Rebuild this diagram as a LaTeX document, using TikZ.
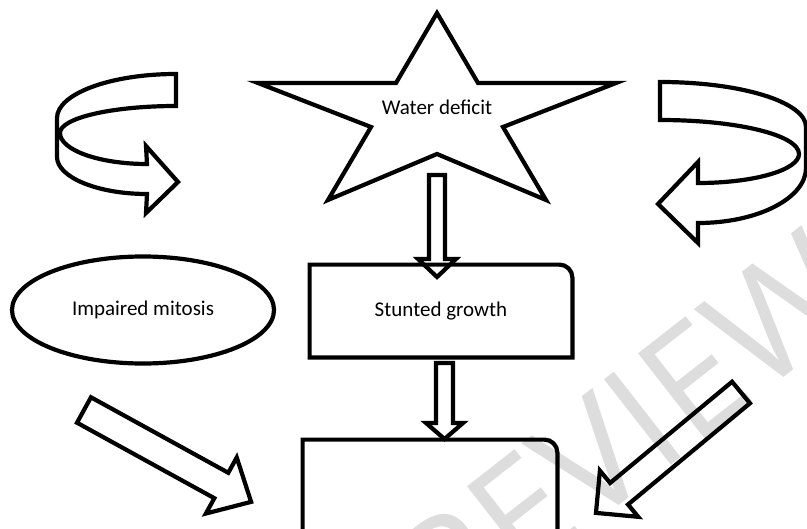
\documentclass[tikz,border=0pt]{standalone}
\usepackage{fontspec}
\setmainfont{Carlito}
\newfontfamily\wmfont{Open Sans}
\usetikzlibrary{shapes.geometric}
\definecolor{wmgray}{RGB}{221,221,221}
\tikzstyle{shapeline} = [line width=2.1pt, draw=black, line join=miter]
\tikzstyle{labelbox} = [rectangle, text centered, inner sep=0pt, font=\fontsize{10.5}{12.6}\selectfont]
\tikzstyle{watermark} = [text=wmgray, inner sep=0pt, font=\wmfont\fontsize{76}{76}\selectfont, rotate=38]
% block arrow: start, angle, length, shaft half width, head half width, head length
\newcommand{\blockarrow}[6]{%
  \draw[shapeline, shift={#1}, rotate=#2] (0,-#4) -- ({#3-#6},-#4) -- ({#3-#6},-#5) -- (#3,0)
    -- ({#3-#6},#5) -- ({#3-#6},#4) -- (0,#4) -- cycle;}

\begin{document}
\begin{tikzpicture}[x=0.5pt, y=-0.5pt]
\useasboundingbox (0,0) rectangle (807,529);
\node[watermark] (pv) at (590,460) {PREVIEW};

% star
\draw[shapeline] (437,13) -- (478,83) -- (616,83) -- (503,127) -- (546,200) -- (437,154)
  -- (328,200) -- (371,127) -- (258,83) -- (396,83) -- cycle;
\node[labelbox] (wd) at (437,107) {Water deficit};

% curved arrows
\draw[shapeline] (176,74) .. controls (110,74) and (57,94) .. (57,118) -- (57,157)
  .. controls (57,177) and (97,194) .. (147,194) -- (146,213) -- (178,182) -- (146,146) -- (147,164)
  .. controls (99,164) and (60,150) .. (60,133) .. controls (60,118) and (112,106) .. (176,106) -- cycle;
\draw[shapeline] (660,82) .. controls (741,82) and (806,102) .. (806,127) -- (806,168)
  .. controls (806,198) and (758,223) .. (698,223) -- (698,243) -- (658,204) -- (698,162) -- (698,183)
  .. controls (754,183) and (799,170) .. (799,154) .. controls (799,135) and (737,120) .. (660,120) -- cycle;

% nodes
\node[labelbox, ellipse, shapeline, minimum width=131pt, minimum height=53.5pt] (im) at (143,310) {Impaired mitosis};
\node[labelbox, minimum width=131pt, minimum height=46pt] (sg) at (441,311) {Stunted growth};
\draw[shapeline] (sg.south west) -- (sg.north west) -- ([xshift=-6.5pt]sg.north east)
  arc[start angle=90, end angle=0, radius=6.5pt] -- (sg.south east) -- cycle;
\node[labelbox, minimum width=127pt, minimum height=80pt] (res) at (430,520) {};
\draw[shapeline] (res.south west) -- (res.north west) -- ([xshift=-6.5pt]res.north east)
  arc[start angle=90, end angle=0, radius=6.5pt] -- (res.south east) -- cycle;

% block arrows
\blockarrow{(437,175)}{-90}{102}{8}{19}{18}
\blockarrow{(444.5,363)}{-90}{76}{8.5}{18.5}{16}
\blockarrow{(84,410)}{-28.8}{190.7}{14.5}{32}{34}
\blockarrow{(741,392.5)}{-140.3}{188.5}{14}{30}{30}
\end{tikzpicture}
\end{document}
